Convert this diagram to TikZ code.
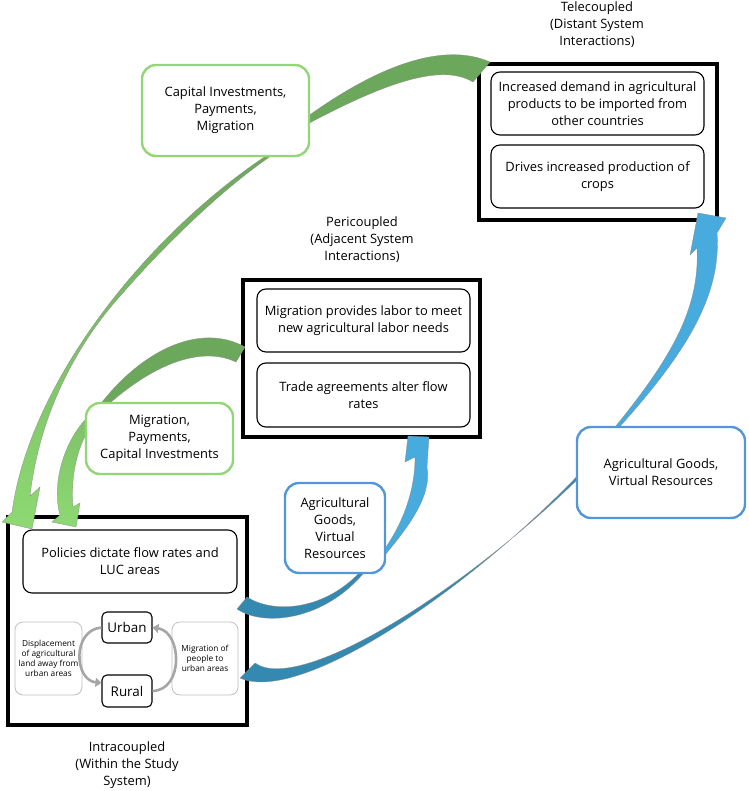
\documentclass[tikz,border=0pt]{standalone}
\usepackage{fontspec}
\setmainfont{Open Sans}
\usetikzlibrary{arrows.meta}

\definecolor{gdark}{RGB}{108,168,92}
\definecolor{glight}{RGB}{142,217,115}
\definecolor{gedge}{RGB}{146,214,118}
\definecolor{bdark}{RGB}{52,137,176}
\definecolor{blight}{RGB}{71,171,222}
\definecolor{bedge}{RGB}{84,150,216}

\begin{document}
\begin{tikzpicture}[x=1pt,y=-1pt,
    every node/.style={font=\fontsize{12.9}{17}\selectfont, align=center, inner sep=0pt},
    sysframe/.style={draw, line width=3.6pt},
    factbox/.style={draw, line width=1.1pt, rounded corners=9pt, minimum width=213, minimum height=63},
    greenbox/.style={draw=gedge, line width=2.4pt, rounded corners=14pt, fill=white},
    bluebox/.style={draw=bedge, line width=2.4pt, rounded corners=14pt, fill=white},
    placebox/.style={draw, line width=1.1pt, rounded corners=5pt, minimum width=50, minimum height=31, font=\fontsize{13.4}{15}\selectfont},
    sidebox/.style={draw=black!25, line width=0.8pt, rounded corners=8pt, minimum width=67, minimum height=73, font=\fontsize{8.3}{10}\selectfont},
    flowedge/.style={draw=black!45, line width=0.3pt},
    cycleflow/.style={draw=black!35, line width=2.6pt, -{Triangle[length=6pt,width=9pt]}}]
    \useasboundingbox (0,0) rectangle (748,791);

    \node (telelbl) at (597,25) {Telecoupled\\(Distant System\\Interactions)};
    \node[sysframe, minimum width=238, minimum height=156] (tele) at (598,142) {};
    \node[factbox] (demand) at (597.5,103.5) {Increased demand in agricultural\\products to be imported from\\other countries};
    \node[factbox] (drives) at (597.5,176.5) {Drives increased production of\\crops};

    \node (perilbl) at (362,240) {Pericoupled\\(Adjacent System\\Interactions)};
    \node[sysframe, minimum width=237, minimum height=157] (peri) at (361.5,358.5) {};
    \node[factbox] (labor) at (363.5,320.5) {Migration provides labor to meet\\new agricultural labor needs};
    \node[factbox, minimum height=64] (trade) at (363.5,395) {Trade agreements alter flow\\rates};

    \node (intralbl) at (127,765) {Intracoupled\\(Within the Study\\System)};
    \node[sysframe, minimum width=239, minimum height=208] (intra) at (127.5,621) {};
    \node[factbox, minimum width=214] (policies) at (130,561.5) {Policies dictate flow rates and\\LUC areas};
    \node[placebox] (urban) at (127,627.5) {Urban};
    \node[placebox, minimum height=32] (rural) at (127,691) {Rural};
    \node[sidebox] (displace) at (48.5,658.5) {Displacement\\of agricultural\\land away from\\urban areas};
    \node[sidebox, minimum width=66] (migrate) at (205,658.5) {Migration of\\people to\\urban areas};
    \draw[cycleflow] (urban.west) .. controls (72,630) and (74,680) .. ([yshift=8pt]rural.west);
    \draw[cycleflow] (rural.east) .. controls (184,690) and (182,632) .. (urban.east);

    \coordinate (gAtop) at (490,62);
    \coordinate (gAbot) at (473,82);
    \coordinate (gAtip) at (32,529);
    \filldraw[fill=gdark, flowedge] (300,128) .. controls (380,85) and (440,62) .. (gAbot) -- (gAtop)
        .. controls (440,40) and (370,70) .. (300,122) -- cycle;
    \shadedraw[top color=gdark, bottom color=glight, flowedge] (275,150) .. controls (150,230) and (30,380) .. (12,512)
        -- (2,522) -- (gAtip) -- (40,487) -- (30,496) .. controls (40,410) and (80,340) .. (122,294)
        .. controls (160,250) and (225,185) .. (280,150) -- cycle;

    \coordinate (gBtop) at (245,347);
    \coordinate (gBbot) at (236,362);
    \coordinate (gBtip) at (76,527);
    \filldraw[fill=gdark, flowedge] (100,412) .. controls (150,365) and (200,345) .. (gBbot) -- (gBtop)
        .. controls (200,322) and (140,350) .. (96,410) -- cycle;
    \shadedraw[top color=gdark!50!glight, bottom color=glight, flowedge] (96,410) .. controls (68,430) and (50,480) .. (60,515)
        -- (52,522) -- (gBtip) -- (80,503) -- (73,507) .. controls (70,470) and (80,435) .. (100,415) -- cycle;

    \coordinate (bCtop) at (247,597);
    \coordinate (bCbot) at (237,609);
    \coordinate (bCtip) at (408,436);
    \filldraw[fill=bdark, flowedge] (bCbot) .. controls (265,628) and (330,620) .. (370,565) -- (366,565)
        .. controls (330,610) and (275,615) .. (bCtop) -- cycle;
    \filldraw[fill=blight, flowedge] (385,555) .. controls (410,525) and (432,495) .. (427,467) -- (429,437) -- (bCtip)
        -- (405,462) -- (415,457) .. controls (415,495) and (400,530) .. (378,558) -- cycle;

    \coordinate (bDtop) at (255,663);
    \coordinate (bDbot) at (240,678);
    \coordinate (bDtip) at (698,213);
    \filldraw[fill=bdark, flowedge] (bDbot) .. controls (300,705) and (470,590) .. (585,468) -- (589,468)
        .. controls (470,588) and (300,695) .. (bDtop) -- cycle;
    \filldraw[fill=blight, flowedge] (615,432) .. controls (680,360) and (722,300) .. (717,233) -- (726,218) -- (bDtip)
        -- (690,255) -- (697,248) .. controls (700,310) and (670,360) .. (611,432) -- cycle;

    \node[greenbox, minimum width=167, minimum height=91] (capital) at (225.5,110.5) {Capital Investments,\\Payments,\\Migration};
    \node[greenbox, minimum width=147, minimum height=71] (payments) at (159.5,438.5) {Migration,\\Payments,\\Capital Investments};
    \node[bluebox, minimum width=100, minimum height=90] (goodsnear) at (335,528) {Agricultural\\Goods,\\Virtual\\Resources};
    \node[bluebox, minimum width=168, minimum height=91] (goodsfar) at (661,472.5) {Agricultural Goods,\\Virtual Resources};
\end{tikzpicture}
\end{document}
